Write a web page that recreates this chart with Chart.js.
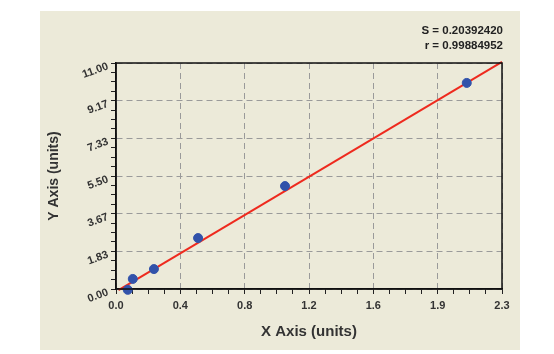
<!DOCTYPE html>
<html>
<head>
<meta charset="utf-8">
<script src="https://cdn.jsdelivr.net/npm/chart.js@4.4.0/dist/chart.umd.min.js"></script>
<style>
  body { margin: 0; background: #fff; }
  #panel { position: absolute; left: 40px; top: 11px; width: 480px; height: 339px; background: #ecead9; }
</style>
</head>
<body>
<div id="panel"><canvas id="myChart" width="480" height="339"></canvas></div>
<script>
// measured points
const pointX = [0.07, 0.10, 0.226, 0.489, 1.007, 2.09];
const pointY = [-0.04, 0.49, 0.97, 2.48, 5.01, 10.03];

// fitted curve
const fitX = [0.015, 2.3];
const fitY = [-0.06, 11.06];

const xTickLabels = ['0.0', '0.4', '0.8', '1.2', '1.6', '1.9', '2.3'];
const yTickLabels = ['0.00', '1.83', '3.67', '5.50', '7.33', '9.17', '11.00'];
const statLines = ['S = 0.20392420', 'r = 0.99884952'];

const xMax = 2.3;
const yMax = 11;
const minorPerMajor = 4;

function buildTicks(max, majors) {
  const n = (majors - 1) * minorPerMajor;
  const ticks = [];
  for (let i = 0; i <= n; i++) {
    ticks.push({ value: max * i / n });
  }
  return ticks;
}

const frame = {
  id: 'frame',
  afterDraw(chart) {
    const { ctx, chartArea } = chart;
    ctx.save();
    ctx.strokeStyle = '#111';
    ctx.lineWidth = 1.5;
    ctx.strokeRect(chartArea.left, chartArea.top, chartArea.right - chartArea.left, chartArea.bottom - chartArea.top);
    ctx.font = 'bold 11.5px "Liberation Sans", Arial, sans-serif';
    ctx.fillStyle = '#222';
    ctx.textAlign = 'right';
    ctx.textBaseline = 'middle';
    ctx.fillText(statLines[0], chartArea.right + 1, 20);
    ctx.fillText(statLines[1], chartArea.right + 1, 35);
    ctx.restore();
  }
};

const gridColor = (c) => c.index % minorPerMajor === 0 ? '#9a9a9a' : 'rgba(0,0,0,0)';
const tickFont = { family: '"Liberation Sans", Arial, sans-serif', size: 11, weight: 'bold' };

new Chart('myChart', {
  type: 'scatter',
  data: {
    datasets: [{
      data: pointX.map((x, i) => ({ x: x, y: pointY[i] })),
      backgroundColor: '#3152aa',
      borderColor: '#3152aa',
      pointRadius: 4.5,
      clip: false
    }, {
      data: fitX.map((x, i) => ({ x: x, y: fitY[i] })),
      showLine: true,
      borderColor: '#ee2a1e',
      borderWidth: 2,
      pointRadius: 0,
      clip: false
    }]
  },
  options: {
    responsive: false,
    animation: false,
    layout: { padding: { top: 52, right: 18, left: 0, bottom: 0 } },
    plugins: {
      legend: { display: false },
      tooltip: { enabled: false }
    },
    scales: {
      x: {
        type: 'linear',
        min: 0,
        max: xMax,
        afterBuildTicks: (scale) => { scale.ticks = buildTicks(xMax, xTickLabels.length); },
        afterFit: (scale) => { scale.height = 61; },
        ticks: {
          autoSkip: false,
          maxRotation: 0,
          padding: 5,
          color: '#333',
          font: tickFont,
          callback: (v, i) => i % minorPerMajor === 0 ? xTickLabels[i / minorPerMajor] : ''
        },
        grid: { color: gridColor, tickColor: '#222', tickLength: 5, lineWidth: 1 },
        border: { color: '#111', width: 1.5, dash: [6, 4] },
        title: {
          display: true,
          text: 'X Axis (units)',
          color: '#333',
          font: { family: '"Liberation Sans", Arial, sans-serif', size: 15, weight: 'bold' },
          padding: { top: 0, bottom: 9 }
        }
      },
      y: {
        type: 'linear',
        min: 0,
        max: yMax,
        afterBuildTicks: (scale) => { scale.ticks = buildTicks(yMax, yTickLabels.length); },
        afterFit: (scale) => { scale.width = 76; },
        ticks: {
          autoSkip: false,
          minRotation: 20,
          padding: 3,
          labelOffset: 3,
          color: '#333',
          font: tickFont,
          callback: (v, i) => i % minorPerMajor === 0 ? yTickLabels[i / minorPerMajor] : ''
        },
        grid: { color: gridColor, tickColor: '#222', tickLength: 5, lineWidth: 1 },
        border: { color: '#111', width: 1.5, dash: [6, 4] },
        title: {
          display: true,
          text: 'Y Axis (units)',
          color: '#333',
          font: { family: '"Liberation Sans", Arial, sans-serif', size: 14, weight: 'bold' },
          padding: { top: 6, bottom: 0 }
        }
      }
    }
  },
  plugins: [frame]
});
</script>
</body>
</html>
